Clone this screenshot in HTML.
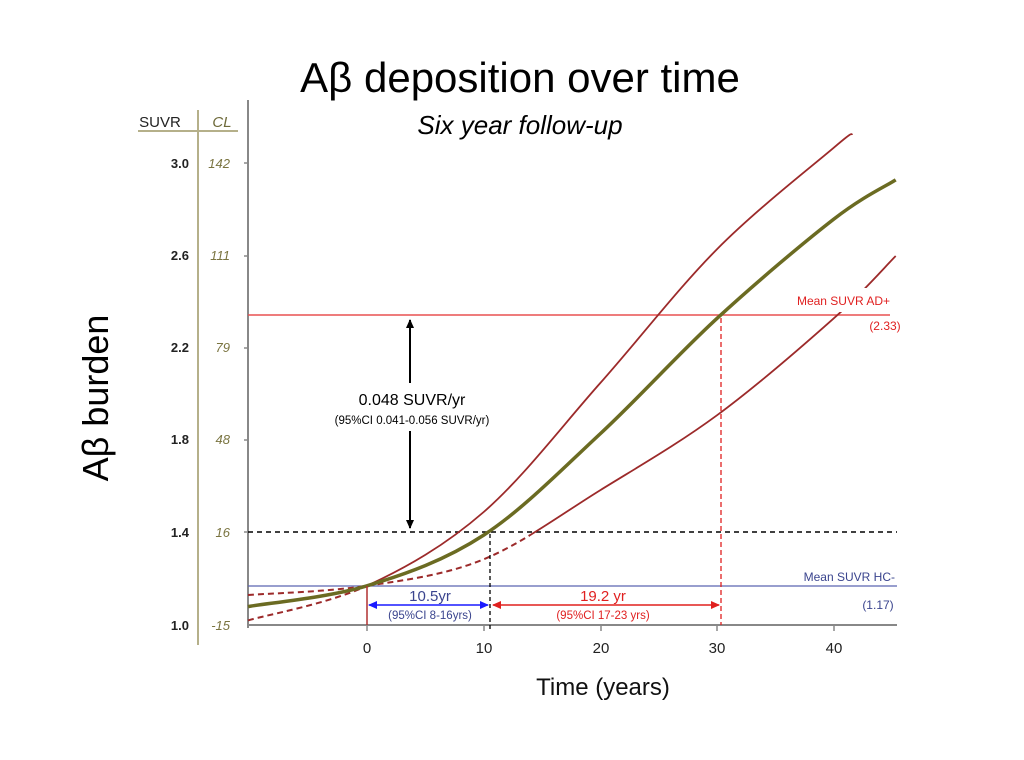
<!DOCTYPE html>
<html><head><meta charset="utf-8"><style>
html,body{margin:0;padding:0;background:#fff;}
svg{display:block;font-family:"Liberation Sans",sans-serif;}
</style></head><body>
<svg id="s" width="1024" height="760" viewBox="0 0 1024 760" xmlns="http://www.w3.org/2000/svg">
<defs>
<marker id="ab" markerWidth="10" markerHeight="10" refX="8" refY="5" orient="auto-start-reverse" markerUnits="userSpaceOnUse"><path d="M0,1 L9,5 L0,9 z" fill="#000"/></marker>
<marker id="abl" markerWidth="10" markerHeight="10" refX="8" refY="5" orient="auto-start-reverse" markerUnits="userSpaceOnUse"><path d="M0,1 L9,5 L0,9 z" fill="#1a1aff"/></marker>
<marker id="ar" markerWidth="10" markerHeight="10" refX="8" refY="5" orient="auto-start-reverse" markerUnits="userSpaceOnUse"><path d="M0,1 L9,5 L0,9 z" fill="#e0201f"/></marker>
<clipPath id="cL0"><rect x="0" y="0" width="367" height="760"/></clipPath>
<clipPath id="cR0"><rect x="367" y="0" width="700" height="760"/></clipPath>
<clipPath id="cL1"><rect x="0" y="0" width="530" height="760"/></clipPath>
<clipPath id="cR1"><rect x="530" y="0" width="700" height="760"/></clipPath>
</defs>
<text x="520" y="92" font-size="42" text-anchor="middle" fill="#000">Aβ deposition over time</text>
<text x="520" y="134" font-size="26" font-style="italic" text-anchor="middle" fill="#000">Six year follow-up</text>
<text transform="translate(108,398) rotate(-90)" font-size="36" text-anchor="middle" fill="#000">Aβ burden</text>
<text x="160" y="127" font-size="15" text-anchor="middle" fill="#222">SUVR</text>
<text x="222" y="127" font-size="15" font-style="italic" text-anchor="middle" fill="#6e6a3a">CL</text>
<line x1="138" y1="131" x2="238" y2="131" stroke="#b5b08a" stroke-width="2"/>
<line x1="198" y1="110" x2="198" y2="645" stroke="#b5b08a" stroke-width="2"/>
<g font-size="13" fill="#222" text-anchor="end" font-weight="bold">
<text x="189" y="168">3.0</text><text x="189" y="260">2.6</text><text x="189" y="352">2.2</text><text x="189" y="444">1.8</text><text x="189" y="537">1.4</text><text x="189" y="630">1.0</text></g>
<g font-size="13" fill="#7a7440" text-anchor="end" font-style="italic">
<text x="230" y="168">142</text><text x="230" y="260">111</text><text x="230" y="352">79</text><text x="230" y="444">48</text><text x="230" y="537">16</text><text x="230" y="630">-15</text></g>
<g stroke="#888" stroke-width="2">
<line x1="248" y1="100" x2="248" y2="628"/><line x1="247" y1="625" x2="897" y2="625"/></g>
<g stroke="#888" stroke-width="1.5">
<line x1="244" y1="163" x2="248" y2="163"/><line x1="244" y1="256" x2="248" y2="256"/><line x1="244" y1="348" x2="248" y2="348"/><line x1="244" y1="440" x2="248" y2="440"/><line x1="244" y1="532" x2="248" y2="532"/>
<line x1="367" y1="625" x2="367" y2="631"/><line x1="484" y1="625" x2="484" y2="631"/><line x1="601" y1="625" x2="601" y2="631"/><line x1="717" y1="625" x2="717" y2="631"/><line x1="834" y1="625" x2="834" y2="631"/></g>
<g font-size="15" fill="#222" text-anchor="middle">
<text x="367" y="653">0</text><text x="484" y="653">10</text><text x="601" y="653">20</text><text x="717" y="653">30</text><text x="834" y="653">40</text></g>
<text x="603" y="695" font-size="24" text-anchor="middle" fill="#111">Time (years)</text>
<line x1="248" y1="315" x2="890" y2="315" stroke="#e85050" stroke-width="1.5"/>
<line x1="248" y1="586" x2="897" y2="586" stroke="#5a64b0" stroke-width="1.2"/>
<line x1="248" y1="532" x2="897" y2="532" stroke="#000" stroke-width="1.5" stroke-dasharray="5,4"/>
<g id="curves" fill="none"></g>
<rect x="820" y="288" width="75" height="24" fill="#fff"/>
<text x="890" y="305" font-size="12" text-anchor="end" fill="#e02020">Mean SUVR AD+</text>
<text x="885" y="330" font-size="12" text-anchor="middle" fill="#e02020">(2.33)</text>
<text x="895" y="581" font-size="12" text-anchor="end" fill="#3a448e">Mean SUVR HC-</text>
<text x="878" y="609" font-size="12" text-anchor="middle" fill="#3a448e">(1.17)</text>
<line x1="410" y1="320" x2="410" y2="528" stroke="#000" stroke-width="2" marker-start="url(#ab)" marker-end="url(#ab)"/>
<rect x="318" y="383" width="190" height="48" fill="#fff"/>
<text x="412" y="405" font-size="16" text-anchor="middle" fill="#000">0.048 SUVR/yr</text>
<text x="412" y="424" font-size="11.5" text-anchor="middle" fill="#000">(95%CI 0.041-0.056 SUVR/yr)</text>
<line x1="367" y1="586" x2="367" y2="625" stroke="#b03030" stroke-width="1.5"/>
<line x1="490" y1="534" x2="490" y2="630" stroke="#000" stroke-width="1.3" stroke-dasharray="4,3"/>
<line x1="721" y1="318" x2="721" y2="625" stroke="#e02020" stroke-width="1.3" stroke-dasharray="5,3"/>
<line x1="369" y1="605" x2="488" y2="605" stroke="#1a1aff" stroke-width="1.5" marker-start="url(#abl)" marker-end="url(#abl)"/>
<line x1="493" y1="605" x2="719" y2="605" stroke="#e0201f" stroke-width="1.5" marker-start="url(#ar)" marker-end="url(#ar)"/>
<text x="430" y="601" font-size="15" text-anchor="middle" fill="#3a448e">10.5yr</text>
<text x="430" y="619" font-size="11.5" text-anchor="middle" fill="#3a448e">(95%CI 8-16yrs)</text>
<text x="603" y="601" font-size="15" text-anchor="middle" fill="#e02020">19.2 yr</text>
<text x="603" y="619" font-size="11.5" text-anchor="middle" fill="#e02020">(95%CI 17-23 yrs)</text>
</svg>
<script>
(function(){
function X(t){return 367+t*11.67;}function Y(s){return 625-(s-1)*230.6;}
function path(pts){
 var p=pts.map(function(a){return [X(a[0]),Y(a[1])];});
 var d="M"+p[0][0].toFixed(1)+","+p[0][1].toFixed(1);
 for(var i=0;i<p.length-1;i++){
  var p0=p[i-1]||p[i],p1=p[i],p2=p[i+1],p3=p[i+2]||p2;
  var c1=[p1[0]+(p2[0]-p0[0])/6,p1[1]+(p2[1]-p0[1])/6];
  var c2=[p2[0]-(p3[0]-p1[0])/6,p2[1]-(p3[1]-p1[1])/6];
  d+=" C"+c1[0].toFixed(1)+","+c1[1].toFixed(1)+" "+c2[0].toFixed(1)+","+c2[1].toFixed(1)+" "+p2[0].toFixed(1)+","+p2[1].toFixed(1);
 }
 return d;}
var g=document.getElementById("curves");
function add(pts,col,w,dash,clip){var e=document.createElementNS("http://www.w3.org/2000/svg","path");e.setAttribute("d",path(pts));e.setAttribute("stroke",col);e.setAttribute("stroke-width",w);if(dash)e.setAttribute("stroke-dasharray",dash);if(clip)e.setAttribute("clip-path","url(#"+clip+")");g.appendChild(e);}
var R="#9c2a2a";
var up=[[-10.2,1.02],[0,1.17],[10,1.49],[20,2.05],[30,2.63],[40,3.07],[41.6,3.13]];
var lo=[[-10.2,1.13],[0,1.17],[10,1.285],[20,1.585],[30,1.91],[40,2.33],[45.3,2.6]];
add(up,R,2,"6,4","cL0");add(up,R,1.8,null,"cR0");
add(lo,R,2,"6,4","cL1");add(lo,R,1.8,null,"cR1");
add([[-10.2,1.08],[0,1.17],[10,1.39],[20,1.83],[30,2.33],[40,2.76],[45.3,2.93]],"#6b6b22",3.5);
})();
</script>
</body></html>
